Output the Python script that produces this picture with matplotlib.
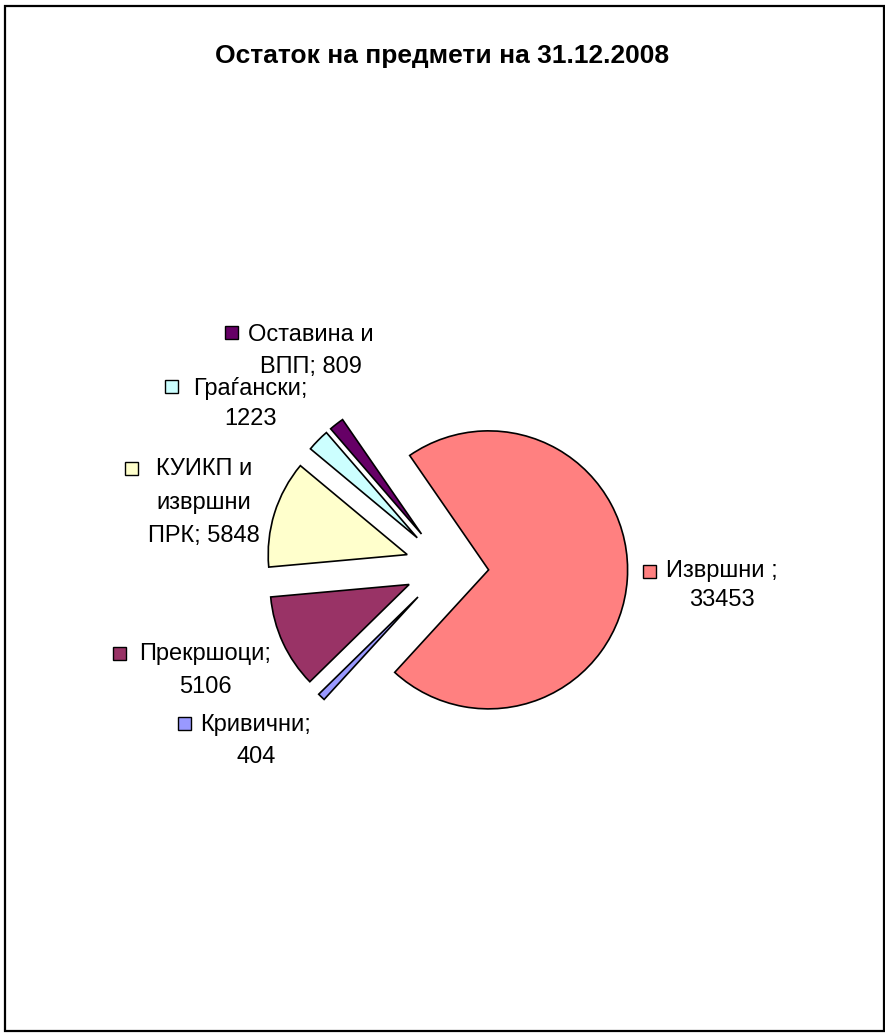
import matplotlib
matplotlib.use('Agg')
import matplotlib.pyplot as plt
from matplotlib.patches import Rectangle

# --- données ---
categories = ['Извршни', 'Кривични', 'Прекршоци', 'КУИКП и извршни ПРК', 'Граѓански', 'Оставина и ВПП']
values = [33453, 404, 5106, 5848, 1223, 809]
colors = ['#FF8080', '#9999FF', '#993366', '#FFFFCC', '#CCFFFF', '#660066']

# texte des étiquettes (lignes) comme dans Excel
label_lines = [
    ['Извршни ;', str(values[0])],
    ['Кривични;', str(values[1])],
    ['Прекршоци;', str(values[2])],
    ['КУИКП и', 'извршни', 'ПРК; ' + str(values[3])],
    ['Граѓански;', str(values[4])],
    ['Оставина и', 'ВПП; ' + str(values[5])],
]

W, H = 885, 1033
plt.rcParams['font.family'] = ['Liberation Sans', 'DejaVu Sans']
fig = plt.figure(figsize=(W / 100, H / 100), dpi=100)


def fx(px):
    return px / W


def fy(py):
    return 1 - py / H


# cadre autour du graphique
fig.patches.append(Rectangle((fx(5), fy(1031)), fx(884) - fx(5), fy(6) - fy(1031),
                             transform=fig.transFigure, fill=False,
                             edgecolor='black', linewidth=1.6))

fig.text(fx(442), fy(56), 'Остаток на предмети на 31.12.2008',
         ha='center', va='center', fontsize=19, fontweight='bold')

# --- camembert ---
cx, cy, r = 447, 567, 139
S = 500
ax = fig.add_axes([fx(cx - S / 2), fy(cy + S / 2), S / W, S / H])
ax.pie(values, colors=colors, explode=[0.30] * len(values), startangle=124.6,
       counterclock=False, radius=1,
       wedgeprops=dict(edgecolor='black', linewidth=1.2))
L = S / 2 / r
ax.set_xlim(-L, L)
ax.set_ylim(-L, L)
ax.set_axis_off()

# --- étiquettes : centre x, y de chaque ligne, position de la clé ---
label_layout = [
    (722, [571, 600], (643, 565)),
    (256, [725, 757], (178, 717)),
    (205, [654, 687], (113, 647)),
    (204, [469, 503, 536], (125, 462)),
    (250, [388, 419], (165, 380)),
    (311, [335, 367], (225, 326)),
]
key = 13
for (tx, ys, (kx, ky)), lines, col in zip(label_layout, label_lines, colors):
    for y, line in zip(ys, lines):
        fig.text(fx(tx), fy(y), line, ha='center', va='center', fontsize=17)
    fig.patches.append(Rectangle((fx(kx), fy(ky + key)), key / W, key / H,
                                 transform=fig.transFigure, facecolor=col,
                                 edgecolor='black', linewidth=1.0))

fig.savefig('out.png', dpi=100)
